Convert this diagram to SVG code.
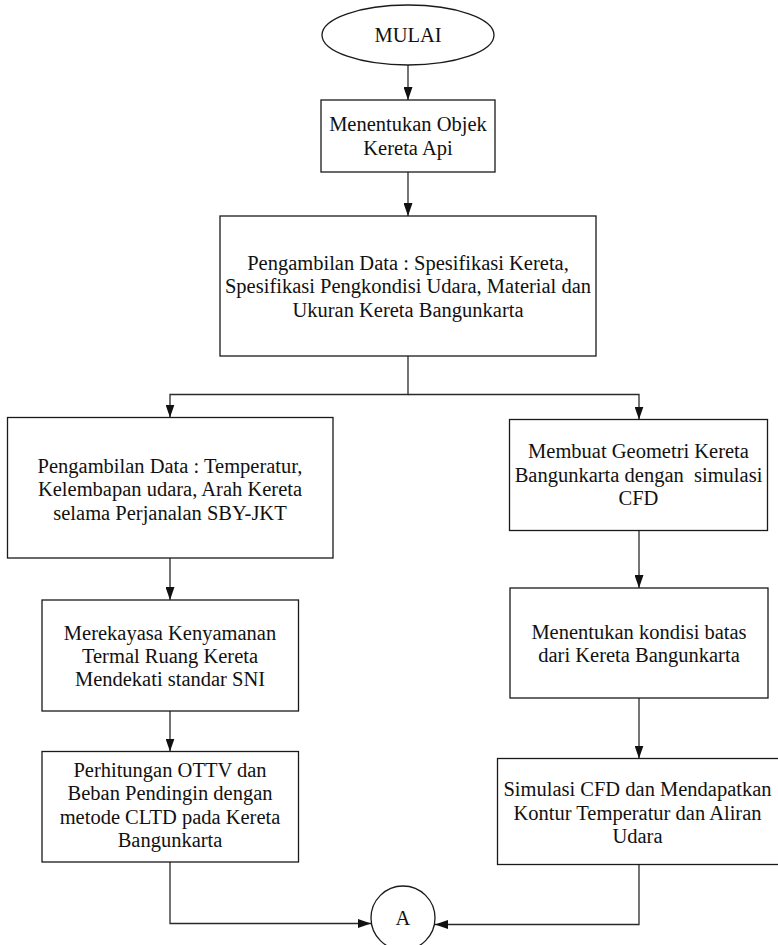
<svg xmlns="http://www.w3.org/2000/svg" width="778" height="945" viewBox="0 0 778 945">
  <style>
    .shape { fill: #ffffff; stroke: #1a1a1a; stroke-width: 1.3; }
    .conn { fill: none; stroke: #2a2a2a; stroke-width: 1.3; }
    .lbl { font-family: "Liberation Serif", "Times New Roman", serif; font-size: 20.5px; fill: #111111; text-anchor: middle; dominant-baseline: central; white-space: pre; }
  </style>
  <defs>
    <marker id="arrow" viewBox="0 0 13 9" refX="13" refY="4.5" markerWidth="13" markerHeight="9" markerUnits="userSpaceOnUse" orient="auto">
      <path d="M0,0 L13,4.5 L0,9 Z" fill="#111111"/>
    </marker>
  </defs>
  <rect width="778" height="945" fill="#ffffff"/>

  <g id="connectors">
    <path class="conn" d="M408,65 V100" marker-end="url(#arrow)"/>
    <path class="conn" d="M408,172 V216" marker-end="url(#arrow)"/>
    <path class="conn" d="M408,356 V394.5 H170 V417.5" marker-end="url(#arrow)"/>
    <path class="conn" d="M408,394.5 H639 V419.5" marker-end="url(#arrow)"/>
    <path class="conn" d="M170,558 V600" marker-end="url(#arrow)"/>
    <path class="conn" d="M170,711 V751.5" marker-end="url(#arrow)"/>
    <path class="conn" d="M170,862 V923.5 H371" marker-end="url(#arrow)"/>
    <path class="conn" d="M639,530.5 V588" marker-end="url(#arrow)"/>
    <path class="conn" d="M639,698 V758.5" marker-end="url(#arrow)"/>
    <path class="conn" d="M639,864.5 V924.5 H435" marker-end="url(#arrow)"/>
  </g>

  <g id="start">
    <ellipse class="shape" cx="408" cy="35" rx="86" ry="30"/>
    <text class="lbl" x="408" y="35">MULAI</text>
  </g>

  <g id="objek">
    <rect class="shape" x="321" y="100" width="174" height="72"/>
    <text class="lbl" x="408" y="124">Menentukan Objek</text>
    <text class="lbl" x="408" y="147.5">Kereta Api</text>
  </g>

  <g id="data-spesifikasi">
    <rect class="shape" x="220" y="216" width="376" height="140"/>
    <text class="lbl" x="408" y="262.5">Pengambilan Data : Spesifikasi Kereta,</text>
    <text class="lbl" x="408" y="286">Spesifikasi Pengkondisi Udara, Material dan</text>
    <text class="lbl" x="408" y="309.5">Ukuran Kereta Bangunkarta</text>
  </g>

  <g id="data-temperatur">
    <rect class="shape" x="7.5" y="417.5" width="325.5" height="140.5"/>
    <text class="lbl" x="170" y="465.5">Pengambilan Data : Temperatur,</text>
    <text class="lbl" x="170" y="489">Kelembapan udara, Arah Kereta</text>
    <text class="lbl" x="170" y="512.5">selama Perjanalan SBY-JKT</text>
  </g>

  <g id="geometri">
    <rect class="shape" x="509.5" y="419.5" width="258" height="111"/>
    <text class="lbl" x="638.5" y="451">Membuat Geometri Kereta</text>
    <text class="lbl" x="638.5" y="474.5">Bangunkarta dengan  simulasi</text>
    <text class="lbl" x="638.5" y="498">CFD</text>
  </g>

  <g id="kenyamanan">
    <rect class="shape" x="42" y="600" width="256.5" height="111"/>
    <text class="lbl" x="170" y="633">Merekayasa Kenyamanan</text>
    <text class="lbl" x="170" y="656">Termal Ruang Kereta</text>
    <text class="lbl" x="170" y="679">Mendekati standar SNI</text>
  </g>

  <g id="kondisi-batas">
    <rect class="shape" x="510" y="588" width="258" height="110"/>
    <text class="lbl" x="639" y="631.5">Menentukan kondisi batas</text>
    <text class="lbl" x="639" y="655">dari Kereta Bangunkarta</text>
  </g>

  <g id="ottv">
    <rect class="shape" x="42" y="751.5" width="256.5" height="110.5"/>
    <text class="lbl" x="170" y="770">Perhitungan OTTV dan</text>
    <text class="lbl" x="170" y="793">Beban Pendingin dengan</text>
    <text class="lbl" x="170" y="816.5">metode CLTD pada Kereta</text>
    <text class="lbl" x="170" y="840">Bangunkarta</text>
  </g>

  <g id="simulasi">
    <rect class="shape" x="497.5" y="758.5" width="283" height="106"/>
    <text class="lbl" x="637.5" y="789">Simulasi CFD dan Mendapatkan</text>
    <text class="lbl" x="637.5" y="812.5">Kontur Temperatur dan Aliran</text>
    <text class="lbl" x="637.5" y="836">Udara</text>
  </g>

  <g id="connector-a">
    <circle class="shape" cx="403" cy="918" r="32"/>
    <text class="lbl" x="403" y="918">A</text>
  </g>
</svg>
